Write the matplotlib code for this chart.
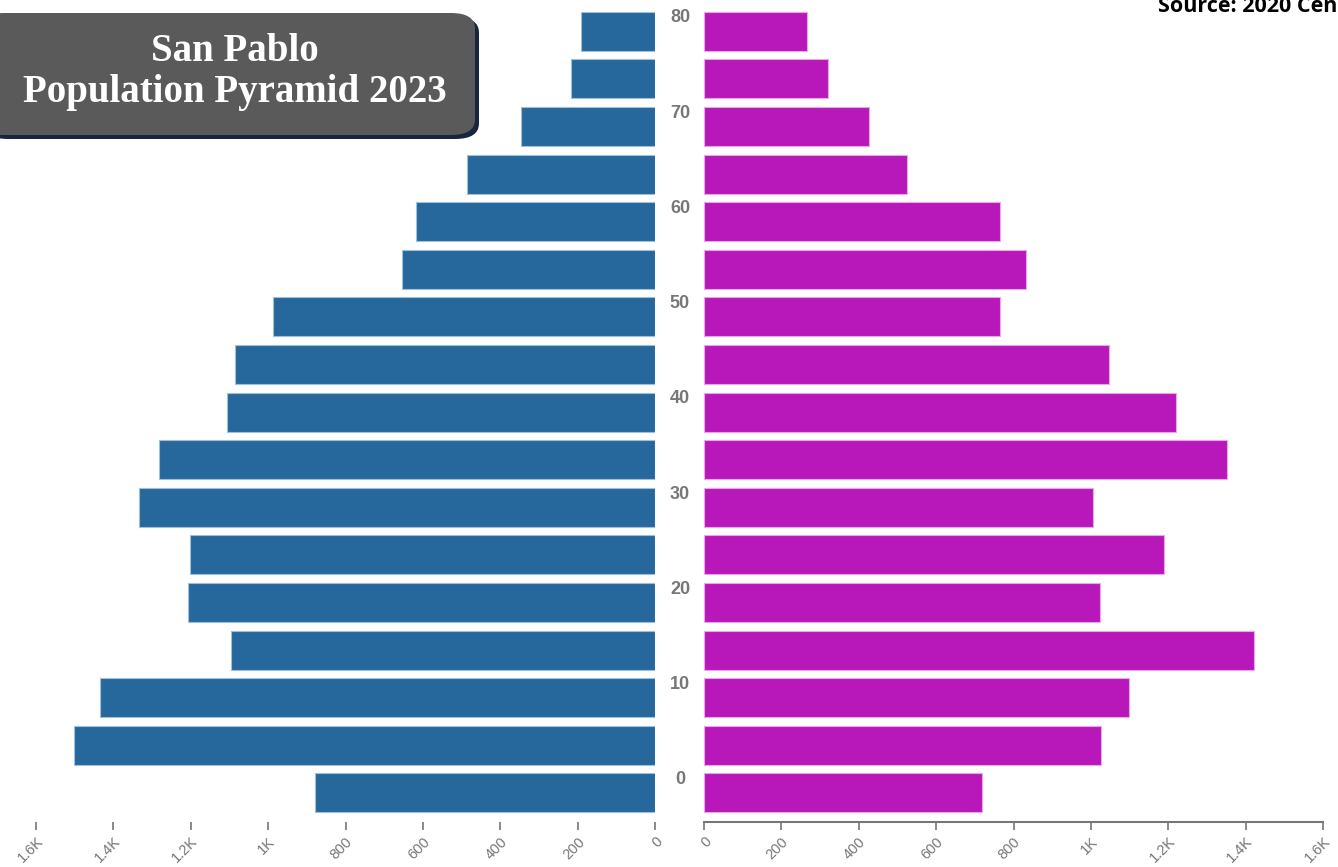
import numpy as np
import matplotlib
matplotlib.use("Agg")
import matplotlib.pyplot as plt
from matplotlib.patches import FancyBboxPatch
from matplotlib.transforms import blended_transform_factory

# age groups (start of 5-year band), bottom to top
ages = [0, 5, 10, 15, 20, 25, 30, 35, 40, 45, 50, 55, 60, 65, 70, 75, 80]
male = [879, 1501, 1434, 1096, 1207, 1202, 1333, 1282, 1106, 1085, 987, 654, 618, 486, 346, 217, 191]
female = [718, 1026, 1098, 1421, 1023, 1189, 1005, 1351, 1220, 1047, 765, 832, 765, 525, 426, 320, 266]
tick_vals = [0, 200, 400, 600, 800, 1000, 1200, 1400, 1600]
tick_labels = ['0', '200', '400', '600', '800', '1K', '1.2K', '1.4K', '1.6K']
age_labels = [0, 10, 20, 30, 40, 50, 60, 70, 80]

W, H = 1338, 867
fig = plt.figure(figsize=(W / 100, H / 100), dpi=100)
plt.rcParams['font.family'] = ['Liberation Sans', 'DejaVu Sans']

blue = '#27689c'
pink = '#b817b9'
grey = '#777777'


def px_axes(x0, x1, ytop, ybot):
    return fig.add_axes([x0 / W, 1 - ybot / H, (x1 - x0) / W, (ybot - ytop) / H])


ax_l = px_axes(36, 655, 8, 822)
ax_r = px_axes(704, 1323, 8, 822)

y = np.arange(len(ages))
ax_l.barh(y, male, height=0.82, color=blue, edgecolor='#9fc0dc', linewidth=0.8)
ax_r.barh(y, female, height=0.82, color=pink, edgecolor='#e9a6ea', linewidth=0.8)

ax_l.set_xlim(1600, 0)
ax_r.set_xlim(0, 1600)
for ax in (ax_l, ax_r):
    ax.set_ylim(-0.61, 16.49)
    ax.set_yticks([])
    for s in ax.spines.values():
        s.set_visible(False)
    ax.set_xticks(tick_vals)
    ax.set_xticklabels(tick_labels, rotation=45, ha='right', rotation_mode='anchor',
                       fontsize=10.5, color=grey)
    ax.tick_params(axis='x', length=6, width=1.2, color=grey, pad=3)
ax_r.spines['bottom'].set_visible(True)
ax_r.spines['bottom'].set_color(grey)
ax_r.spines['bottom'].set_linewidth(1.5)

# age labels in the gap between the two halves
tr = blended_transform_factory(fig.transFigure, ax_r.transData)
for a in age_labels:
    ax_r.text(680 / W, ages.index(a) + 0.28, str(a), transform=tr, ha='center', va='center',
              fontsize=13, fontweight='bold', color=grey, clip_on=False)

# title box
shadow = FancyBboxPatch((-20 / W + 4 / W, 1 - 135 / H - 4 / H), 495 / W, 122 / H,
                        boxstyle='round,pad=0,rounding_size=0.018', transform=fig.transFigure,
                        facecolor='#17263f', edgecolor='none', zorder=5)
box = FancyBboxPatch((-20 / W, 1 - 135 / H), 495 / W, 122 / H,
                     boxstyle='round,pad=0,rounding_size=0.018', transform=fig.transFigure,
                     facecolor='#5a5a5a', edgecolor='none', zorder=6)
fig.patches.extend([shadow, box])
fig.text(235 / W, 1 - 72 / H, 'San Pablo\nPopulation Pyramid 2023', ha='center', va='center',
         family=['Liberation Serif', 'DejaVu Serif'], fontweight='bold', fontsize=28,
         color='white', linespacing=1.15, zorder=7)

# source note, cut off by the right edge as in the original
fig.text(1158 / W, 1 - 12 / H, 'Source: 2020 Census', ha='left', va='baseline',
         family=['Open Sans', 'DejaVu Sans'], fontweight='bold', fontsize=15.5, color='black')

fig.savefig('out.png', dpi=100)
